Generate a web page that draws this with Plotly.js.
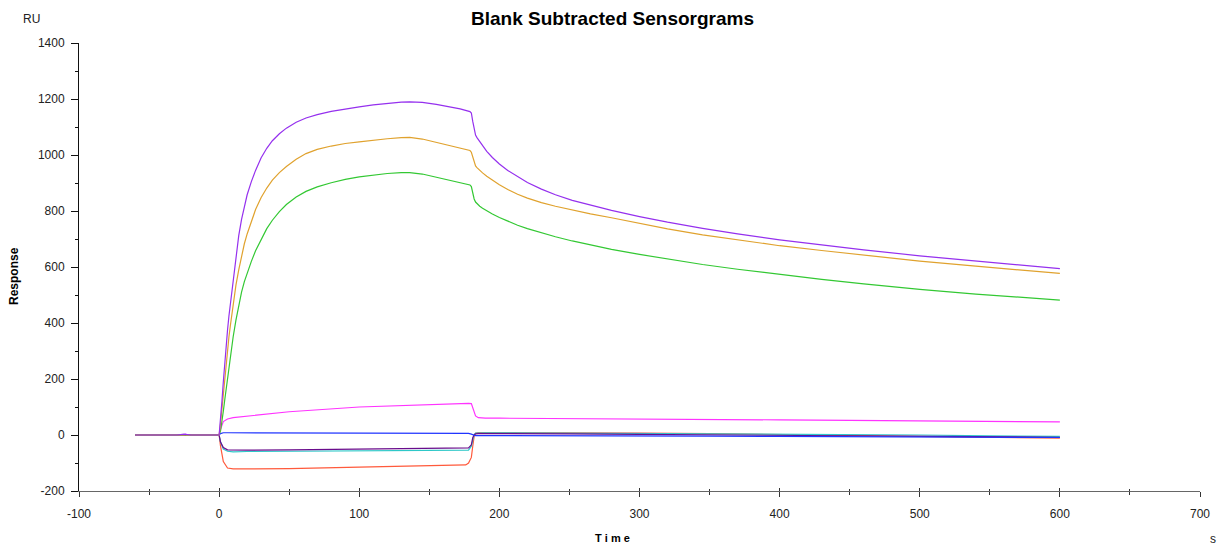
<!DOCTYPE html>
<html>
<head>
<meta charset="utf-8">
<script src="https://cdn.plot.ly/plotly-3.0.1.min.js"></script>
<style>html,body{margin:0;padding:0;background:#fff;}#chart{width:1225px;height:546px;}</style>
</head>
<body>
<div id="chart"></div>
<script>
// Time points (s) for the three high-response curves
const tBig = [-60,-30,-25,-20,0,1,2,3,4,5,6,7,8,10,12,14,16,18,20,23,26,30,34,38,43,48,55,62,70,80,90,100,110,120,130,136,145,155,165,172,179,180,181,182,183,184,186,188,191,195,200,206,213,220,230,240,252,265,280,300,320,345,370,400,430,460,500,540,570,600];
const rPurple = [0,0,3,0,0,50,120,190,260,320,375,425,465,560,645,712,770,818,858,905,945,990,1024,1051,1076,1096,1117,1132,1144,1156,1165,1172,1179,1185,1189,1190,1188,1181,1172,1165,1155,1150,1120,1090,1071,1062,1047,1033,1013,991,968,945,922,902,878,858,838,820,802,780,760,738,718,697,678,661,640,621,607,594];
const rOrange = [0,0,2,0,0,40,95,155,210,260,310,350,390,470,535,590,640,683,718,765,805,848,882,910,937,959,985,1005,1020,1032,1041,1047,1053,1058,1062,1063,1057,1045,1033,1025,1016,1010,990,972,961,955,945,936,924,910,894,877,860,846,830,817,803,790,776,755,736,715,697,676,659,643,621,603,590,577];
const rGreen = [0,0,2,0,0,15,45,85,125,165,205,245,283,350,410,462,510,548,580,620,658,700,737,767,798,823,850,870,886,901,913,922,929,934,937,937,932,920,908,900,893,887,862,843,832,826,817,810,800,789,777,763,749,737,722,708,693,678,663,645,628,609,592,573,556,540,520,503,492,482];

// Time points (s) for the low-response curves
const tSmall = [-60,-25,-24,-23,0,1,3,6,10,20,50,100,150,176,178,180,181,182,183,185,190,200,250,300,350,400,450,500,550,600];
const rMagenta = [0,0,3,0,0,20,48,57,62,67,83,100,110,113,113,112,95,78,68,62,60,60,59,56,55,54,52,50,47,47];
const rBlue = [0,0,2,0,0,5,8,8,8,8,8,8,7,7,6,3,0,-1,-2,-2,-2,-3,-3,-4,-4,-5,-6,-7,-8,-9];
const rDarkPurple = [0,0,2,0,0,-25,-45,-53,-54,-54,-53,-51,-49,-48,-46,-35,-10,0,4,5,5,5,4,2,0,-2,-4,-5,-7,-8];
const rCyan = [0,0,2,0,0,-25,-50,-58,-60,-59,-58,-57,-56,-56,-54,-40,-15,2,7,8,8,8,7,6,5,4,2,0,-3,-5];
const rRed = [0,0,2,0,0,-40,-95,-118,-121,-121,-120,-115,-110,-107,-100,-80,-40,-5,6,9,9,9,9,7,5,3,-1,-5,-8,-11];

const xTicks = [-100,0,100,200,300,400,500,600,700];
const yTicks = [-200,0,200,400,600,800,1000,1200,1400];

const lw = 1.2;
const traces = [
  {x:tSmall, y:rRed, color:'#FF5A3C'},
  {x:tSmall, y:rCyan, color:'#2EC8C8'},
  {x:tSmall, y:rDarkPurple, color:'#6A0C8C'},
  {x:tSmall, y:rBlue, color:'#2035FF'},
  {x:tSmall, y:rMagenta, color:'#FF33FF'},
  {x:tBig, y:rGreen, color:'#33C833'},
  {x:tBig, y:rOrange, color:'#E0A22E'},
  {x:tBig, y:rPurple, color:'#9530EE'}
].map(d => ({x:d.x, y:d.y, type:'scatter', mode:'lines', line:{color:d.color, width:lw}, hoverinfo:'skip', showlegend:false}));

// invisible trace on overlay axis for inside ticks
traces.push({x:[-100,700], y:[-200,1400], xaxis:'x2', yaxis:'y', mode:'none', type:'scatter', showlegend:false, hoverinfo:'skip'});

const tickFont = {family:'Liberation Sans, Arial, sans-serif', size:12, color:'#222'};
const layout = {
  width:1225, height:546,
  margin:{l:79, r:25, t:43, b:55},
  paper_bgcolor:'#fff', plot_bgcolor:'#fff',
  showlegend:false,
  xaxis:{range:[-100,700], tickvals:xTicks, ticktext:xTicks.map(String), ticks:'outside', ticklen:5, tickwidth:1, tickcolor:'#333',
         minor:{dtick:50, tick0:0, ticks:'outside', ticklen:3, tickcolor:'#333'},
         showline:true, linecolor:'#666', linewidth:1, showgrid:false, zeroline:false, tickfont:tickFont, ticklabelstandoff:7, fixedrange:true},
  xaxis2:{range:[-100,700], overlaying:'x', matches:'x', tickvals:xTicks, ticks:'inside', ticklen:3, tickwidth:1, tickcolor:'#333',
         minor:{dtick:50, tick0:0, ticks:'inside', ticklen:2, tickcolor:'#333'},
         showticklabels:false, showline:false, showgrid:false, zeroline:false},
  yaxis:{range:[-200,1400], tickvals:yTicks, ticktext:yTicks.map(String), ticks:'outside', ticklen:7, tickwidth:1, tickcolor:'#111',
         minor:{dtick:100, tick0:0, ticks:'outside', ticklen:3, tickcolor:'#111'},
         showline:true, linecolor:'#111', linewidth:1, showgrid:false, zeroline:false, tickfont:tickFont, ticklabelstandoff:4, fixedrange:true},
  annotations:[
    {text:'<b>Blank Subtracted Sensorgrams</b>', xref:'paper', yref:'paper', x:(612-79)/1121, y:(491-18)/448, showarrow:false, xanchor:'center', yanchor:'middle',
     font:{family:'Liberation Sans, Arial, sans-serif', size:19, color:'#000'}},
    {text:'RU', xref:'paper', yref:'paper', x:(31-79)/1121, y:(491-19)/448, showarrow:false, xanchor:'center', yanchor:'middle',
     font:{family:'Liberation Sans, Arial, sans-serif', size:12, color:'#222'}},
    {text:'s', xref:'paper', yref:'paper', x:(1213-79)/1121, y:(491-539)/448, showarrow:false, xanchor:'center', yanchor:'middle',
     font:{family:'Liberation Sans, Arial, sans-serif', size:12, color:'#222'}},
    {text:'<b>T i m e</b>', xref:'paper', yref:'paper', x:(612-79)/1121, y:(491-538)/448, showarrow:false, xanchor:'center', yanchor:'middle',
     font:{family:'Liberation Sans, Arial, sans-serif', size:11, color:'#000'}},
    {text:'<b>Response</b>', xref:'paper', yref:'paper', x:(14-79)/1121, y:(491-276)/448, showarrow:false, xanchor:'center', yanchor:'middle', textangle:-90,
     font:{family:'Liberation Sans, Arial, sans-serif', size:12, color:'#000'}}
  ]
};
Plotly.newPlot('chart', traces, layout, {staticPlot:true, displayModeBar:false});
</script>
</body>
</html>
